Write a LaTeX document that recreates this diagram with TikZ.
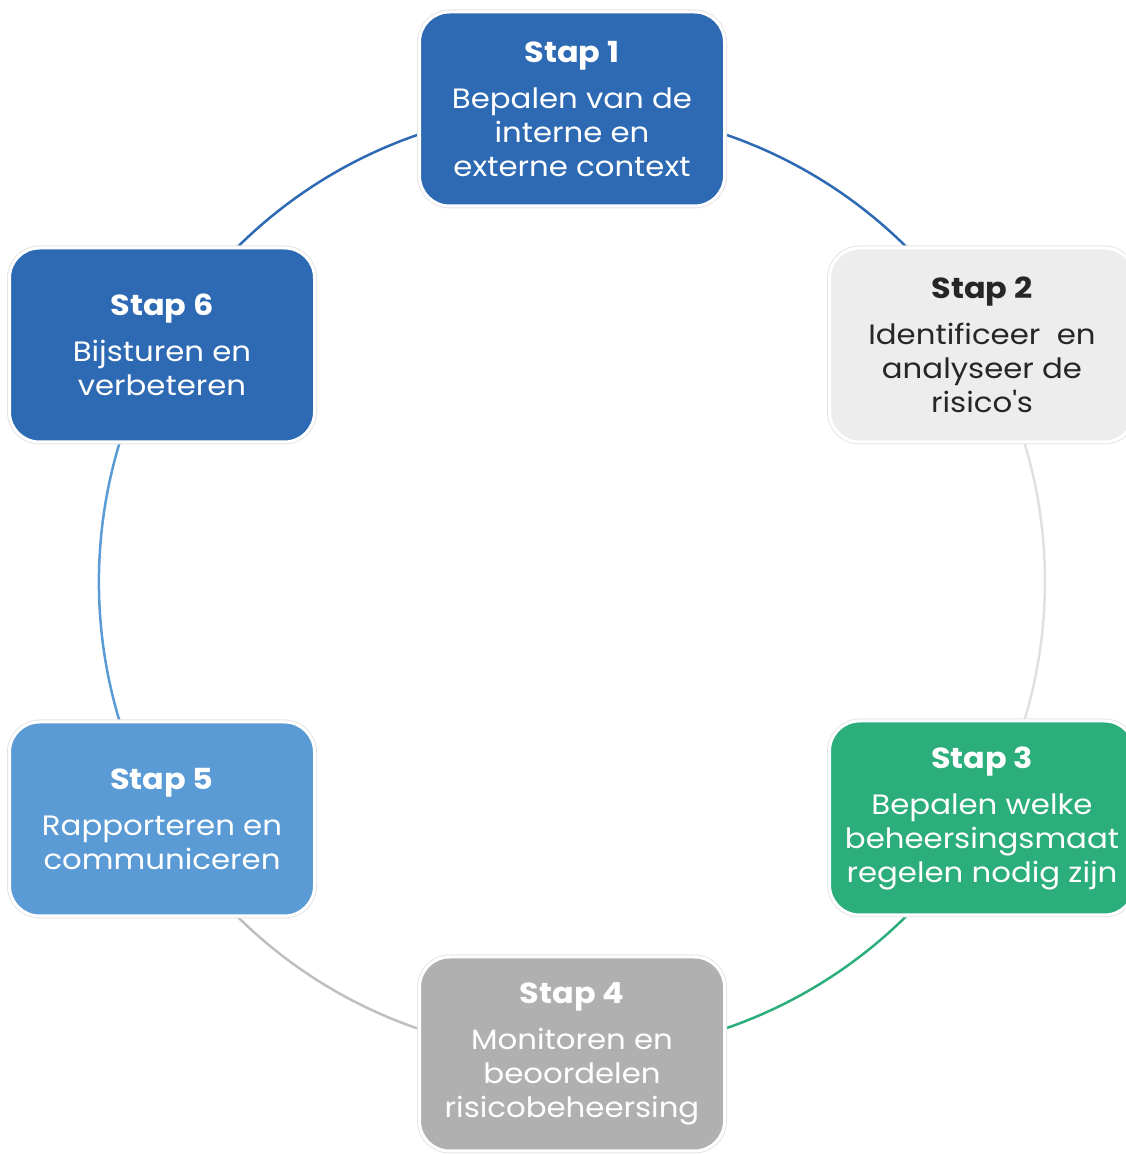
\documentclass[tikz,border=0pt]{standalone}
\usepackage{fontspec}
\setmainfont{Poppins}[FakeStretch=1.1]
\usetikzlibrary{backgrounds}
\definecolor{stapblauw}{HTML}{2E6AB3}
\definecolor{staplicht}{HTML}{5B9BD5}
\definecolor{stapgroen}{HTML}{2BAE7B}
\definecolor{stapgrijs}{HTML}{B0B0B0}
\definecolor{stapwit}{HTML}{EDEDED}

\begin{document}
\begin{tikzpicture}[x=1pt,y=1pt]
    \tikzset{
        stapbox/.style={rounded corners=30pt, minimum width=305pt, minimum height=194pt,
            align=center, draw=white, line width=3pt, preaction={draw=black!10, line width=5pt},
            font=\fontsize{28}{34}\selectfont, text=white},
        kring/.style={line width=2.5pt, bend left=30, looseness=0.91},}
    \def\stap#1{{\fontsize{29}{34}\selectfont\bfseries Stap #1}\\[12pt]}
    \useasboundingbox (0,0) rectangle (1126,1154);
    \node[stapbox, fill=stapblauw] (stap1) at (572,1045) {\stap{1}Bepalen van de\\interne en\\externe context};
    \node[stapbox, fill=stapwit, text=black!85] (stap2) at (982,809) {\stap{2}Identificeer\ \ en\\analyseer de\\risico\textquotesingle s};
    \node[stapbox, fill=stapgroen] (stap3) at (982,336) {\stap{3}Bepalen welke\\beheersingsmaat\\regelen nodig zijn};
    \node[stapbox, fill=stapgrijs] (stap4) at (572,100) {\stap{4}Monitoren en\\beoordelen\\risicobeheersing};
    \node[stapbox, fill=staplicht] (stap5) at (162,335) {\stap{5}Rapporteren en\\communiceren};
    \node[stapbox, fill=stapblauw] (stap6) at (162,809) {\stap{6}Bijsturen en\\verbeteren};
    % de kring achter de stappen
    \begin{scope}[on background layer]
        \draw[kring, stapblauw] (stap1.center) to (stap2.center);
        \draw[kring, black!12] (stap2.center) to (stap3.center);
        \draw[kring, stapgroen] (stap3.center) to (stap4.center);
        \draw[kring, black!25] (stap4.center) to (stap5.center);
        \draw[kring, staplicht] (stap5.center) to (stap6.center);
        \draw[kring, stapblauw] (stap6.center) to (stap1.center);
    \end{scope}
\end{tikzpicture}
\end{document}
